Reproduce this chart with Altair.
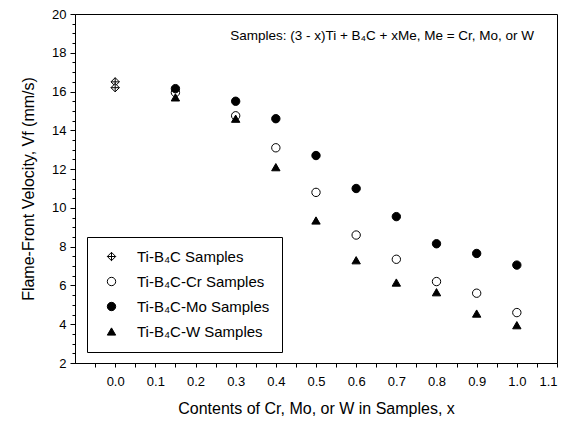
import altair as alt
import pandas as pd

series_names = ["Ti-B₄C Samples", "Ti-B₄C-Cr Samples", "Ti-B₄C-Mo Samples", "Ti-B₄C-W Samples"]
series_fill = ["white", "white", "black", "black"]
series_stroke = ["black", "black", "black", "black"]

x_tib4c = [0.0, 0.0]
v_tib4c = [16.5, 16.2]

x_me = [0.15, 0.3, 0.4, 0.5, 0.6, 0.7, 0.8, 0.9, 1.0]
v_cr = [15.95, 14.75, 13.1, 10.8, 8.6, 7.35, 6.2, 5.6, 4.6]
v_mo = [16.15, 15.5, 14.6, 12.7, 11.0, 9.55, 8.15, 7.65, 7.05]
v_w = [15.7, 14.6, 12.1, 9.35, 7.3, 6.15, 5.65, 4.55, 3.95]

x_tick_values = [-0.05, 0.0, 0.05, 0.1, 0.15, 0.2, 0.25, 0.3, 0.35, 0.4, 0.45, 0.5,
                 0.55, 0.6, 0.65, 0.7, 0.75, 0.8, 0.85, 0.9, 0.95, 1.0, 1.05, 1.1]
y_tick_values = [2, 2.5, 3, 3.5, 4, 4.5, 5, 5.5, 6, 6.5, 7, 7.5, 8, 8.5, 9, 9.5, 10,
                 10.5, 11, 11.5, 12, 12.5, 13, 13.5, 14, 14.5, 15, 15.5, 16, 16.5,
                 17, 17.5, 18, 18.5, 19, 19.5, 20]

annotation_text = ["Samples: (3 - x)Ti + B₄C + xMe, Me = Cr, Mo, or W"]
annotation_x = [1.043]
annotation_y = [18.85]

rows = []
for xv, vv in zip(x_tib4c, v_tib4c):
    rows.append({"x": xv, "v": vv, "series": series_names[0]})
for name, vals in zip(series_names[1:], [v_cr, v_mo, v_w]):
    for xv, vv in zip(x_me, vals):
        rows.append({"x": xv, "v": vv, "series": name})
df = pd.DataFrame(rows)

ann = pd.DataFrame({"x": annotation_x, "v": annotation_y, "t": annotation_text})

diamond_path = "M0,-1L1,0L0,1L-1,0Z M0,-1L0,1 M-1,0L1,0"

x_scale = alt.Scale(domain=[-0.1, 1.1], nice=False, zero=False)
y_scale = alt.Scale(domain=[2, 20], nice=False, zero=False)

x_axis = alt.Axis(
    values=x_tick_values, tickCount=100,
    labelExpr="(abs(round(datum.value*20)) % 2 === 0 && datum.value > -0.01) ? format(datum.value, '.1f') : ''",
    title="Contents of Cr, Mo, or W in Samples, x",
    tickSize=4, grid=False, labelPadding=8, titlePadding=12,
    labelOverlap=False, labelFlush=True, labelFlushOffset=0,
)
y_axis = alt.Axis(
    values=y_tick_values, tickCount=100,
    labelExpr="(datum.value % 2 === 0) ? format(datum.value, 'd') : ''",
    title="Flame-Front Velocity, Vf (mm/s)",
    tickSize={"condition": {"test": "datum.value % 2 === 0", "value": 5}, "value": 3},
    grid=False, labelPadding=4, titlePadding=15,
    labelOverlap=False, labelFlush=False,
)

legend_kw = dict(title=None, orient="none", legendX=12, legendY=223,
                 strokeColor="black", fillColor="white", padding=12,
                 labelFontSize=15, labelFont="Liberation Sans", labelColor="black",
                 symbolSize=70, symbolStrokeWidth=1,
                 symbolOffset=5, labelOffset=18, rowPadding=9, labelLimit=300)

points = alt.Chart(df).mark_point(filled=False, opacity=1, strokeWidth=1, size=70).encode(
    x=alt.X("x:Q", scale=x_scale, axis=x_axis),
    y=alt.Y("v:Q", scale=y_scale, axis=y_axis),
    shape=alt.Shape("series:N", sort=series_names,
                    scale=alt.Scale(domain=series_names, range=[diamond_path, "circle", "circle", "triangle-up"]),
                    legend=alt.Legend(**legend_kw)),
    fill=alt.Fill("series:N", sort=series_names,
                  scale=alt.Scale(domain=series_names, range=series_fill),
                  legend=alt.Legend(**legend_kw)),
    stroke=alt.Stroke("series:N", sort=series_names,
                      scale=alt.Scale(domain=series_names, range=series_stroke),
                      legend=alt.Legend(**legend_kw)),
)

text = alt.Chart(ann).mark_text(align="right", baseline="middle", fontSize=13.5,
                                font="Liberation Sans", color="black").encode(
    x=alt.X("x:Q", scale=x_scale),
    y=alt.Y("v:Q", scale=y_scale),
    text="t:N",
)

chart = alt.layer(points, text).properties(
    width=482, height=349,
    autosize=alt.AutoSizeParams(type="none"),
    padding={"left": 67, "top": 6, "right": 2, "bottom": 58},
).configure_view(
    stroke="black", strokeWidth=1
).configure_axis(
    domainColor="black", tickColor="black", labelColor="black", titleColor="black",
    labelFont="Liberation Sans", titleFont="Liberation Sans",
    labelFontSize=13, titleFontSize=16, titleFontWeight="normal",
)

chart.save("out.html", embed_options={"renderer": "svg", "actions": False})
